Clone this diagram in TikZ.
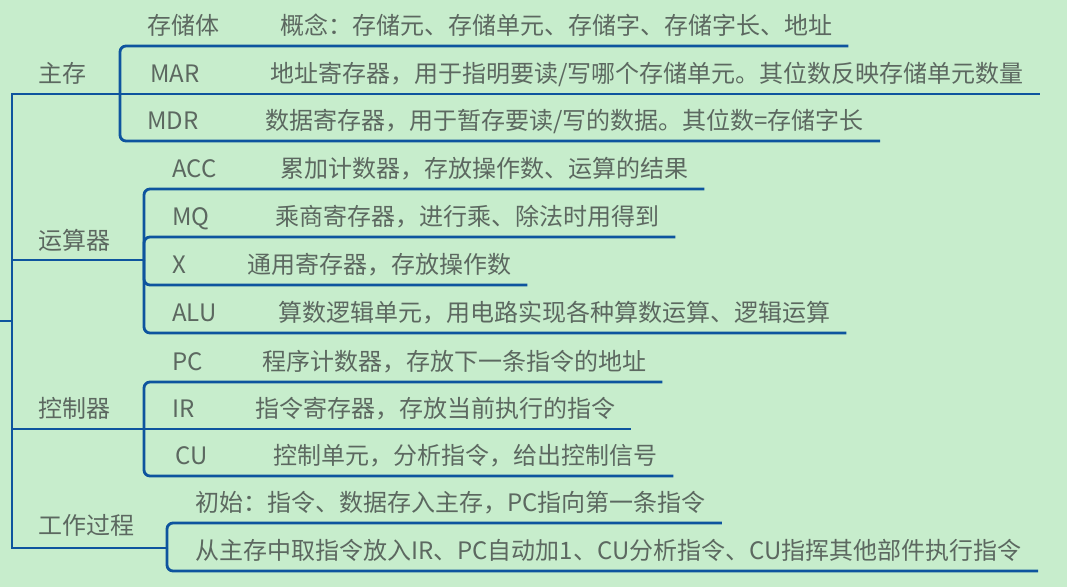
\documentclass[tikz,border=0pt]{standalone}
\usepackage{fontspec}
\setmainfont{Noto Sans CJK SC}
\usetikzlibrary{calc, positioning}
\definecolor{bggreen}{RGB}{199,237,204}
\definecolor{linkblue}{RGB}{14,84,158}
\definecolor{textgray}{RGB}{92,104,96}

\tikzset{
	branch/.style={draw=linkblue, line width=2.8pt, rounded corners=6pt},
	topic/.style={inner sep=0pt, anchor=base west, text=textgray, font=\fontsize{24pt}{28pt}\selectfont},
}

\begin{document}
\begin{tikzpicture}[x=1pt, y=-1pt]
	\fill[bggreen] (0,0) rectangle (1067,587);
	\useasboundingbox (0,0) rectangle (1067,587);

	% main branches
	\node[topic] (mem) at (38,82) {主存};
	\node[topic] (arith) at (38,249) {运算器};
	\node[topic] (ctrl) at (38,417) {控制器};
	\node[topic] (work) at (38,534) {工作过程};

	\coordinate (root-in) at (0,321);
	\coordinate (root-mid) at (12,321);
	\coordinate (root-top) at (12,94);
	\coordinate (root-bot) at (12,548);
	\coordinate (j-mem) at (120,94);
	\coordinate (j-arith) at (144,260);
	\coordinate (j-ctrl) at (144,429);
	\coordinate (j-work) at (167,548);

	% children: name / label x / text x / baseline / label / text
	\foreach \n/\lx/\dx/\by/\lab/\desc in {
		body/147/280/34/{存储体}/{概念：存储元、存储单元、存储字、存储字长、地址},
		mar/150/270/82/{MAR}/{地址寄存器，用于指明要读/写哪个存储单元。其位数反映存储单元数量},
		mdr/147/265/129/{MDR}/{数据寄存器，用于暂存要读/写的数据。其位数=存储字长},
		acc/172/280/177/{ACC}/{累加计数器，存放操作数、运算的结果},
		mq/172/275/225/{MQ}/{乘商寄存器，进行乘、除法时用得到},
		x/172/247/273/{X}/{通用寄存器，存放操作数},
		alu/172/278/321/{ALU}/{算数逻辑单元，用电路实现各种算数运算、逻辑运算},
		pc/172/262/370/{PC}/{程序计数器，存放下一条指令的地址},
		ir/172/255/417/{IR}/{指令寄存器，存放当前执行的指令},
		cu/175/273/464/{CU}/{控制单元，分析指令，给出控制信号}}{
		\node[topic] (\n) at (\lx,\by) {\lab};
		\node[topic] (\n-d) at (\dx,\by) {\desc};
	}
	\node[topic] (init-d) at (195,511) {初始：指令、数据存入主存，PC指向第一条指令};
	\node[topic] (run-d) at (195,559) {从主存中取指令放入IR、PC自动加1、CU分析指令、CU指挥其他部件执行指令};

	% connectors
	\draw[branch] (root-in) -- (root-mid);
	\draw[branch, rounded corners=0pt] (j-mem) -- (root-top) -- (root-bot) -- (j-work);
	\draw[branch] (root-top |- j-arith) -- (j-arith);
	\draw[branch] (root-top |- j-ctrl) -- (j-ctrl);
	\draw[branch] (j-mem) -- ($(mar-d.base east)+(16,12)$);
	\draw[branch] (j-ctrl) -- ($(ir-d.base east)+(16,12)$);
	\foreach \j/\c in {mem/body, mem/mdr, arith/acc, arith/mq, arith/x, arith/alu,
		ctrl/pc, ctrl/cu, work/init, work/run}
		\draw[branch] (j-\j) |- ($(\c-d.base east)+(16,12)$);
\end{tikzpicture}
\end{document}
